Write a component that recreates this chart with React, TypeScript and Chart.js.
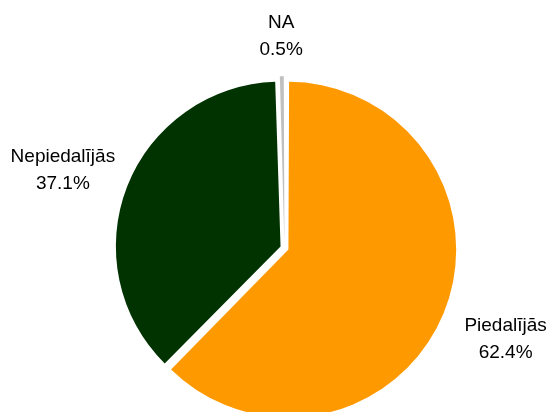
import React, { useEffect, useRef } from "react";
import { Chart, registerables } from "chart.js";

Chart.register(...registerables);

const categories = ["Piedalījās", "Nepiedalījās", "NA"];
const shares = [62.4, 37.1, 0.5];
const sliceColors = ["#FF9900", "#003300", "#C0C0C0"];

// label placement relative to each slice's middle angle
const labelDistance = [239, 235, 212];
const labelAngleShiftDeg = [0, -2, 0];

const outsideLabels = {
  id: "outsideLabels",
  afterDatasetsDraw(chart: any) {
    const ctx = chart.ctx;
    const meta = chart.getDatasetMeta(0);
    ctx.save();
    ctx.font = '19px "Liberation Sans", Arial, sans-serif';
    ctx.fillStyle = "#000000";
    ctx.textAlign = "center";
    ctx.textBaseline = "middle";
    meta.data.forEach((arc: any, i: number) => {
      const mid =
        (arc.startAngle + arc.endAngle) / 2 +
        (labelAngleShiftDeg[i] * Math.PI) / 180;
      const x = arc.x + Math.cos(mid) * labelDistance[i];
      const y = arc.y + Math.sin(mid) * labelDistance[i];
      ctx.fillText(categories[i], x, y - 13.5);
      ctx.fillText(shares[i].toFixed(1) + "%", x, y + 13.5);
    });
    ctx.restore();
  },
};

export default function App() {
  const canvasRef = useRef<HTMLCanvasElement | null>(null);

  useEffect(() => {
    if (!canvasRef.current) return;
    const chart = new Chart(canvasRef.current, {
      type: "pie",
      data: {
        labels: categories,
        datasets: [
          {
            data: shares,
            backgroundColor: sliceColors,
            borderWidth: 0,
            offset: 17,
            radius: 163.5,
            clip: false,
          } as any,
        ],
      },
      options: {
        animation: false,
        responsive: true,
        maintainAspectRatio: false,
        layout: { padding: { left: 20, right: 0, top: 84, bottom: 0 } },
        plugins: {
          legend: { display: false },
          tooltip: { enabled: false },
        },
      },
      plugins: [outsideLabels],
    });
    return () => chart.destroy();
  }, []);

  return (
    <div
      style={{
        position: "fixed",
        left: 0,
        top: 0,
        width: 549,
        height: 412,
        background: "#ffffff",
      }}
    >
      <canvas ref={canvasRef} />
    </div>
  );
}
